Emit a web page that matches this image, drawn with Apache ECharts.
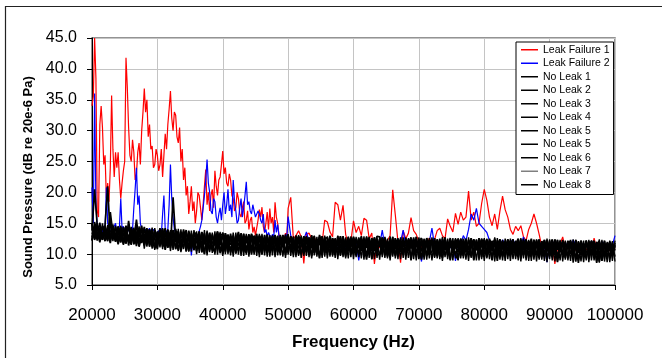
<!DOCTYPE html>
<html><head><meta charset="utf-8">
<script src="https://cdn.jsdelivr.net/npm/echarts@6/dist/echarts.min.js"></script>
<style>html,body{margin:0;padding:0;background:#fff}#c{width:662px;height:358px}</style>
</head><body><div id="c"></div>
<script>
// Frequency sampling (Hz): leak spectra are read finer below 50 kHz
const freqStart = 20000, freqStep = 400;          // No Leak spectra
const fineStart = 20000, fineStep = 200;          // Leak spectra, 20000-49800 Hz
const coarseStart = 50000, coarseStep = 400;      // Leak spectra, 50000-100000 Hz
const xTickValues = [20000, 30000, 40000, 50000, 60000, 70000, 80000, 90000, 100000];
const yTickValues = [5, 10, 15, 20, 25, 30, 35, 40, 45];

const seriesNames = ['Leak Failure 1','Leak Failure 2','No Leak 1','No Leak 2','No Leak 3','No Leak 4','No Leak 5','No Leak 5\u200b','No Leak 6','No Leak 7','No Leak 8'];

const leakFailure1Fine = [
34.0,35.5,45.0,38.5,17.0,16.0,31.0,34.0,30.5,24.5,
26.0,19.0,21.5,18.5,24.0,35.7,27.0,22.5,26.5,24.0,
26.5,22.0,19.0,21.5,23.5,25.0,41.8,37.0,30.5,26.0,
25.0,28.5,26.5,22.0,23.0,26.5,28.0,24.5,30.0,33.0,
36.8,33.0,35.0,29.0,31.0,27.0,27.5,24.0,24.5,27.0,
26.0,23.5,24.5,27.0,22.5,26.0,29.5,27.0,31.0,33.5,
36.4,32.0,30.0,33.0,32.5,29.0,28.0,30.5,25.0,27.0,
22.0,24.0,19.5,21.0,16.5,18.5,21.0,17.0,18.5,15.0,
17.0,20.0,19.5,17.5,15.5,18.0,21.0,23.7,18.0,20.0,
17.0,19.5,20.5,17.5,23.5,21.0,19.5,22.0,22.5,24.5,
26.7,23.0,24.0,21.5,21.0,23.0,22.0,19.5,19.0,17.0,
17.5,20.0,19.0,16.5,16.0,17.5,18.5,15.0,15.5,17.0,
14.0,15.5,16.0,13.5,14.4,13.0,13.0,15.5,17.2,16.0,
17.6,14.5,13.5,15.0,16.8,14.0,17.4,15.0,16.0,13.5,
18.4,16.0,15.0,13.0,12.5,12.0,13.0,12.5,13.4,12.8];

const leakFailure1Coarse = [
17.4,19.2,12.5,13.0,13.8,
12.8,8.5,13.2,13.4,12.5,12.8,11.5,12.0,11.8,15.5,
15.2,13.6,12.8,18.4,18.0,15.5,17.9,13.2,11.5,12.0,
15.4,13.5,14.5,13.0,15.8,15.5,12.5,13.4,8.4,12.0,
11.0,12.5,11.8,12.2,13.0,20.4,16.3,12.0,8.6,13.8,
12.5,13.4,15.9,13.8,13.2,12.0,11.0,12.2,11.5,12.6,
11.8,12.4,13.8,14.2,13.0,12.5,15.7,14.5,13.6,16.6,
14.8,16.8,15.5,16.0,20.2,15.5,16.8,14.5,15.0,18.2,
20.5,18.7,16.0,14.6,16.5,14.0,17.0,19.4,17.2,16.0,
14.0,13.2,14.5,13.8,14.6,12.8,12.2,14.0,15.0,16.5,
15.0,13.2,11.2,10.5,11.8,10.2,11.4,8.4,10.9,11.6,
12.8,10.8,11.3,10.1,11.9,10.6,11.2,9.9,11.5,10.7,
11.1,10.3,12.6,10.9,11.4,10.2,11.0,11.7,10.5,11.2,
10.8];

const leakFailure2Fine = [
20.8,15.0,36.0,18.0,14.5,13.5,15.0,14.0,13.5,14.5,
14.0,20.8,15.0,14.0,14.0,13.5,13.5,14.5,15.0,13.5,
13.8,14.5,19.0,14.0,14.5,13.8,13.5,14.2,14.0,13.5,
13.0,14.0,17.5,20.5,24.0,18.0,19.5,15.0,14.0,13.5,
13.8,14.0,13.5,13.8,14.2,13.5,13.5,14.0,14.0,13.2,
13.2,13.8,13.5,13.0,16.5,19.5,14.0,13.5,14.0,18.0,
24.5,19.0,16.0,14.0,13.5,13.2,13.0,12.8,12.8,13.0,
12.5,12.0,11.8,12.5,13.0,12.2,9.8,12.0,12.6,12.0,
12.2,13.0,13.0,14.5,15.5,17.5,19.5,22.0,25.3,21.5,
20.0,17.0,16.5,19.0,18.5,16.0,15.0,16.5,17.5,15.5,
18.0,20.0,16.5,18.0,20.5,17.0,18.0,16.0,22.0,18.5,
17.0,15.0,15.5,17.5,19.0,16.0,17.5,19.5,21.7,18.0,
18.5,17.0,16.5,18.0,17.7,16.0,16.0,17.0,16.5,15.5,
15.0,16.5,13.5,14.0,12.8,13.5,13.0,12.5,13.2,12.8,
15.5,13.5,14.8,13.0,13.0,12.5,12.8,12.4,13.2,12.6];

const leakFailure2Coarse = [
16.1,13.0,12.0,11.5,12.2,
11.8,12.4,13.6,12.0,11.5,12.2,11.0,11.8,12.1,11.4,
11.9,11.2,12.0,11.6,11.3,12.2,11.5,11.0,11.8,12.3,
11.4,12.0,9.0,11.7,11.2,12.4,11.3,11.9,11.0,12.1,
11.5,13.9,11.2,11.8,11.0,12.2,11.6,11.3,12.0,13.9,
11.4,11.8,11.1,12.5,11.5,11.0,8.8,11.7,11.2,12.0,
14.2,11.3,11.9,11.1,12.2,11.5,11.8,11.0,12.1,8.9,
12.4,11.6,13.0,12.2,14.0,16.5,15.5,17.4,15.0,14.5,
14.0,13.5,12.2,11.4,12.0,11.7,11.2,12.3,11.6,11.0,
11.8,12.4,11.3,11.9,11.5,12.8,11.2,11.7,11.0,12.0,
11.6,11.2,11.9,11.4,8.7,11.8,11.1,12.2,11.5,11.3,
12.0,11.4,11.8,11.0,12.3,11.5,11.2,11.9,11.3,11.7,
11.0,12.1,11.4,11.8,11.2,12.0,11.6,11.1,11.8,11.4,
13.0];

const noLeak1 = [
13.8,20.5,14.6,12.9,13.5,12.1,14.2,13.1,12.6,14.4,
12.3,14.1,11.8,13.6,12.5,14.3,11.6,13.2,12.8,14.0,
11.4,13.5,12.2,14.1,11.0,12.9,13.7,11.6,13.3,12.0,
13.6,11.2,12.8,10.6,13.4,12.2,11.5,13.8,11.9,12.6,
10.5,12.9,11.3,13.4,10.2,12.4,11.7,13.1,10.8,12.2,
12.8,10.4,13.2,11.5,12.1,10.1,12.9,11.2,13.3,10.9,
11.9,13.1,10.3,12.5,11.0,13.0,10.6,12.2,11.5,12.9,
10.2,12.6,11.4,13.0,9.9,12.1,11.0,12.8,10.5,11.9,
12.7,10.1,12.0,11.2,13.0,10.4,12.3,9.3,12.6,11.1,
10.6,12.8,9.9,12.1,11.3,12.9,10.2,11.8,10.9,12.5,
11.6,9.8,12.7,10.5,12.2,11.0,12.8,9.2,11.9,10.6,
12.4,10.3,11.7,9.6,12.6,11.1,10.0,12.3,10.8,12.0,
9.8,12.1,10.9,12.7,10.2,11.5,9.1,12.4,11.2,10.4,
12.2,10.0,11.8,9.6,12.5,10.7,11.4,9.0,12.0,11.1,
10.3,12.4,9.7,11.6,10.9,12.3,9.0,11.9,10.5,12.1,
11.4,9.5,12.2,10.6,11.8,8.9,12.0,10.9,9.8,12.3,
9.9,11.7,10.4,12.2,9.3,11.5,10.8,12.0,9.6,11.2,
11.8,9.4,11.3,10.1,12.1,9.7,11.0,12.2,8.7,11.5,
10.2,12.0,9.5,11.4,10.6,11.9,8.6,11.6,10.3,12.1,
9.6,11.3,10.7,12.0,8.8,11.7,10.0,11.5,9.4,11.9,
10.6];

const noLeak2 = [
12.7,14.3,12.2,13.9,12.6,14.7,21.0,12.4,14.1,12.0,
13.7,11.9,14.4,12.6,13.1,11.5,13.9,12.3,14.2,11.8,
13.2,11.8,14.0,12.4,10.9,13.6,11.5,12.8,14.2,11.1,
12.1,13.9,10.8,12.7,11.4,13.5,10.4,12.9,11.6,13.3,
12.6,11.0,13.5,11.8,12.8,10.6,13.2,11.4,12.3,10.3,
11.1,13.4,12.0,10.5,12.7,11.6,13.1,10.2,12.4,11.8,
13.2,10.8,12.1,11.3,13.0,9.9,12.6,11.4,10.2,12.8,
12.0,10.7,13.1,11.2,12.4,10.3,12.9,11.6,12.2,10.0,
11.3,12.9,10.6,12.4,9.7,12.1,11.4,12.8,10.2,12.5,
12.7,11.0,12.3,10.4,12.9,9.8,12.0,11.5,12.6,10.1,
10.3,12.5,11.2,12.9,9.9,12.0,10.8,12.6,10.5,12.3,
11.2,12.7,9.9,12.1,10.6,12.8,9.7,11.4,12.5,10.2,
12.6,10.7,12.2,10.0,12.8,9.2,11.9,10.6,12.4,9.9,
10.4,12.6,10.2,12.1,11.0,12.7,9.8,11.6,10.4,12.3,
11.9,9.8,12.5,10.5,11.3,9.6,12.2,10.8,12.6,9.5,
12.4,10.1,11.6,9.0,12.5,10.7,11.1,9.6,12.1,10.4,
11.5,12.4,9.7,11.1,10.2,12.3,9.5,11.8,10.6,12.1,
9.9,11.7,10.5,12.3,9.3,11.2,10.8,12.0,9.6,11.4,
11.7,9.4,12.2,10.0,11.5,8.8,12.0,10.5,11.3,9.3,
12.1,9.8,11.6,8.6,11.9,10.4,12.2,9.5,11.1,10.2,
11.5];

const noLeak3 = [
14.9,12.3,13.6,11.9,14.5,13.2,12.1,15.8,12.7,13.4,
11.6,13.3,12.1,14.6,11.4,13.8,12.4,15.6,11.9,13.1,
12.7,14.2,11.2,13.0,12.5,10.8,14.0,12.3,11.4,13.8,
11.0,19.2,12.4,13.7,10.5,12.2,13.9,11.1,12.7,10.7,
13.3,11.6,12.1,10.0,13.6,11.9,10.9,12.7,11.3,13.4,
10.0,12.3,11.2,13.3,10.7,12.9,11.4,12.2,10.4,13.0,
10.5,12.4,11.8,13.3,10.1,12.0,11.2,12.9,10.7,11.6,
13.1,11.5,10.1,12.5,11.8,13.2,10.6,12.0,11.1,12.7,
10.0,11.8,12.9,10.7,12.2,11.5,10.0,13.1,11.7,10.6,
11.9,10.2,12.6,11.4,10.0,12.2,11.6,9.6,12.8,11.2,
12.8,11.3,10.1,12.4,11.6,9.1,12.1,11.0,12.7,9.8,
10.1,11.9,12.6,10.8,9.5,12.2,11.5,10.3,12.0,11.3,
11.4,12.4,9.0,11.7,11.1,12.5,10.4,12.0,9.7,12.3,
11.7,9.6,12.4,10.8,9.4,12.0,11.2,12.6,10.1,11.5,
12.4,10.7,11.1,12.5,9.9,11.4,10.5,12.3,9.7,11.8,
10.0,12.3,10.8,12.1,9.9,11.5,12.4,9.8,11.3,10.9,
12.2,10.3,12.0,9.8,11.6,10.9,12.4,9.7,11.9,10.2,
11.2,12.4,9.8,11.6,10.4,12.2,9.5,11.8,10.7,12.1,
9.8,11.6,10.9,12.3,9.6,11.1,10.4,12.1,9.5,11.5,
11.4,10.3,12.2,9.9,11.6,8.9,11.3,10.8,12.0,9.7,
11.8];

const noLeak4 = [
12.3,15.2,13.0,14.2,12.5,13.7,12.9,16.8,13.3,12.2,
14.5,12.8,13.4,11.7,15.4,12.2,13.6,11.3,13.8,12.5,
14.4,12.0,13.3,11.3,13.9,12.6,11.7,13.4,10.7,12.9,
13.0,11.7,14.1,12.0,11.2,13.6,12.4,10.5,13.3,11.8,
11.9,13.7,10.3,12.5,11.1,13.0,10.6,12.0,13.5,11.5,
13.5,11.3,12.6,10.3,13.0,11.1,10.6,13.4,11.6,12.2,
12.4,10.1,13.0,11.7,12.3,10.9,13.1,10.4,12.7,11.1,
11.3,12.9,10.4,11.8,13.0,10.8,11.6,10.1,13.0,11.7,
12.4,11.0,12.6,9.9,11.6,12.9,10.7,12.1,9.9,12.8,
10.3,13.0,11.2,12.5,10.6,11.3,12.9,10.5,11.4,12.6,
12.0,10.6,12.5,11.4,10.3,12.8,10.2,12.4,11.3,12.9,
12.8,10.0,12.2,11.1,12.4,10.4,12.6,9.9,11.6,12.2,
10.5,11.8,12.7,9.8,12.2,10.8,12.1,9.9,12.6,11.0,
12.5,11.1,9.7,12.3,10.6,11.5,10.0,12.4,11.2,9.9,
9.1,11.9,10.4,12.0,10.8,12.6,10.0,11.5,11.0,10.4,
11.7,9.9,12.5,11.2,10.3,12.2,9.6,11.7,10.6,12.4,
10.6,12.2,11.0,10.5,12.4,9.9,11.4,10.7,12.5,9.8,
12.3,10.2,11.9,9.6,11.5,10.9,12.4,9.9,11.6,10.3,
12.2,10.7,9.7,11.8,10.1,12.3,10.8,9.9,11.7,10.4,
10.0,12.2,10.5,11.4,9.9,12.0,9.6,11.8,10.6,11.3,
9.6];

const noLeak5 = [
14.9,12.5,14.6,12.3,15.0,12.6,14.7,12.2,14.8,12.4,
14.5,11.9,14.2,11.7,14.6,12.0,14.3,11.6,14.5,11.9,
14.1,11.2,13.8,10.9,14.2,11.1,13.9,10.8,14.0,11.0,
13.9,10.7,13.6,10.5,14.0,10.8,13.7,10.4,13.8,10.6,
13.7,10.2,13.4,10.0,13.8,10.3,13.5,9.9,13.6,10.1,
13.4,10.0,13.1,9.8,13.5,10.1,13.2,9.7,13.3,9.9,
13.2,9.9,12.9,9.7,13.3,10.0,13.0,9.6,13.1,9.8,
13.1,9.8,12.8,9.6,13.2,9.9,12.9,9.5,13.0,9.7,
13.0,9.7,12.7,9.5,13.1,9.8,12.8,9.4,12.9,9.6,
12.9,9.6,12.6,9.4,13.0,9.7,12.7,9.3,12.8,9.5,
12.8,9.5,12.5,9.3,12.9,9.6,12.6,9.2,12.7,9.4,
12.8,9.5,12.5,9.3,12.9,9.6,12.6,9.2,12.7,9.4,
12.7,9.4,12.4,9.2,12.8,9.5,12.5,9.1,12.6,9.3,
12.7,9.4,12.4,9.2,12.8,9.5,12.5,9.1,12.6,9.3,
12.6,9.3,12.3,9.1,12.7,9.4,12.4,9.0,12.5,9.2,
12.6,9.3,12.3,9.1,12.7,9.4,12.4,9.0,12.5,9.2,
12.5,9.2,12.2,9.0,12.6,9.3,12.3,8.9,12.4,9.1,
12.4,9.1,12.1,8.9,12.5,9.2,12.2,8.8,12.3,9.0,
12.3,9.1,12.0,8.9,12.4,9.2,12.1,8.8,12.2,9.0,
12.3,9.0,12.0,8.8,12.4,9.1,12.1,8.7,12.2,8.9,
12.2];

const noLeak5b = [
12.2,14.5,12.6,15.1,12.3,14.4,12.7,14.9,12.1,14.6,
11.8,14.6,11.5,14.1,12.0,14.4,11.6,14.7,11.9,14.2,
10.9,13.9,11.3,14.3,10.7,13.7,11.1,14.2,10.8,13.9,
10.5,13.7,10.8,14.1,10.3,13.8,10.6,13.5,10.4,13.9,
10.0,13.5,10.3,13.9,9.8,13.4,10.2,13.7,9.9,13.6,
9.7,13.4,10.0,13.0,9.6,13.5,9.9,13.2,9.7,13.3,
9.6,13.2,9.9,12.9,9.5,13.3,9.8,13.0,9.6,13.1,
9.5,13.0,9.8,12.8,9.4,13.2,9.7,12.9,9.5,13.1,
9.4,12.9,9.7,12.7,9.3,13.0,9.6,12.8,9.4,13.0,
9.3,12.8,9.6,12.6,9.2,12.9,9.5,12.7,9.3,12.9,
9.2,12.8,9.5,12.5,9.1,12.9,9.4,12.6,9.2,12.7,
9.1,12.7,9.4,12.5,9.0,12.8,9.3,12.6,9.2,12.7,
9.1,12.6,9.4,12.4,9.0,12.7,9.2,12.5,9.1,12.6,
9.0,12.6,9.3,12.3,8.9,12.7,9.2,12.4,9.0,12.6,
9.0,12.5,9.3,12.3,8.9,12.6,9.1,12.4,9.0,12.5,
8.9,12.5,9.2,12.2,8.8,12.6,9.1,12.3,8.9,12.4,
8.9,12.4,9.2,12.2,8.8,12.5,9.0,12.3,8.9,12.4,
8.8,12.3,9.1,12.1,8.7,12.4,9.0,12.2,8.8,12.3,
8.8,12.2,9.0,12.0,8.6,12.3,8.9,12.1,8.7,12.2,
8.7,12.2,9.0,11.9,8.6,12.3,8.8,12.0,8.7,12.1,
8.8];

const noLeak6 = [
13.5,12.8,15.0,13.3,12.3,14.1,13.4,11.8,14.3,13.1,
14.0,12.4,13.0,14.5,12.2,12.8,14.1,11.8,12.9,14.6,
11.8,14.0,12.5,11.7,13.4,12.3,14.2,11.2,12.0,14.0,
12.4,11.1,13.2,12.8,10.8,14.0,11.8,12.6,10.9,13.6,
13.1,11.2,13.6,11.6,12.4,10.9,12.8,11.9,13.7,10.6,
11.6,13.0,11.0,12.8,11.4,12.3,13.6,11.4,10.6,12.9,
10.9,13.3,11.6,12.2,10.4,12.6,11.7,13.2,11.0,12.4,
11.9,10.4,12.6,11.5,10.6,12.5,12.2,10.8,11.7,12.9,
12.1,10.4,12.8,11.5,12.0,10.2,11.8,12.6,10.7,11.9,
11.5,12.5,10.5,12.2,11.7,10.3,12.7,11.1,12.2,10.8,
10.8,12.2,11.4,12.7,10.4,12.2,11.6,10.5,12.5,11.0,
12.1,11.0,12.8,10.4,12.0,10.1,11.9,12.4,10.3,11.8,
12.2,10.4,12.0,11.3,10.1,12.0,12.6,10.5,11.4,12.2,
12.0,11.2,10.5,12.5,10.1,12.4,10.7,12.1,11.2,10.1,
10.8,12.5,11.0,10.3,12.3,11.5,12.4,10.6,11.3,12.5,
11.1,12.4,10.2,11.9,12.2,10.0,12.3,11.3,10.8,12.1,
11.8,10.2,11.6,12.5,10.6,12.2,9.9,12.1,11.3,10.5,
12.0,11.1,10.4,12.3,10.6,11.6,10.1,12.4,10.7,11.8,
11.4,9.8,11.9,12.0,10.5,11.7,10.2,12.2,10.8,11.9,
10.6,11.8,9.7,11.6,12.1,10.3,11.6,10.5,11.8,10.0,
11.3];

const noLeak7 = [
13.2,13.9,12.5,13.6,14.2,12.7,13.1,14.0,12.9,13.8,
12.5,13.4,12.2,13.8,12.9,13.5,12.0,14.0,12.6,13.3,
12.9,12.2,13.5,11.9,12.6,13.2,11.8,13.5,12.5,11.9,
12.6,11.5,12.9,12.2,11.4,13.0,11.9,12.4,11.6,12.8,
11.5,12.5,11.8,12.3,11.2,12.6,11.5,12.2,11.7,12.7,
11.3,12.0,11.6,12.4,11.0,12.1,11.5,12.6,11.2,12.0,
11.6,12.2,11.1,12.3,11.6,11.0,12.4,11.3,12.0,11.2,
11.8,11.1,12.3,10.9,12.1,11.6,11.0,12.2,11.3,12.0,
11.0,11.7,12.2,10.9,11.9,11.3,12.1,10.8,11.8,11.4,
11.7,10.9,11.8,11.0,12.0,11.2,10.9,11.9,11.1,12.0,
11.2,11.9,10.9,11.6,11.0,12.1,11.1,11.7,10.8,11.5,
11.0,11.7,11.3,11.8,10.8,11.6,11.1,11.9,10.9,11.4,
11.3,10.8,11.8,11.0,11.6,10.9,11.9,11.2,10.8,11.6,
10.9,11.6,11.0,11.8,11.3,10.7,11.7,11.1,11.9,10.8,
11.5,10.9,11.6,10.7,11.9,11.0,11.4,10.8,11.7,11.2,
10.8,11.4,11.0,11.7,10.6,11.3,10.9,11.8,10.7,11.3,
11.2,10.7,11.6,10.9,11.5,10.8,11.7,10.6,11.3,11.0,
10.7,11.4,10.8,11.6,10.9,11.3,10.6,11.5,10.8,11.2,
11.0,10.6,11.5,10.8,11.3,10.5,11.6,10.9,11.1,10.7,
10.8,11.3,10.5,11.4,10.7,11.2,10.6,11.5,10.9,11.1,
10.7];

const noLeak8 = [
12.2,13.6,14.3,12.3,13.0,14.6,12.4,13.7,13.9,12.1,
13.4,14.4,11.6,13.2,12.0,14.2,12.6,13.7,11.2,12.8,
12.1,13.0,14.0,11.3,13.6,12.0,12.9,14.1,11.8,13.1,
11.5,13.3,12.0,13.6,11.7,12.6,10.7,13.2,12.4,11.4,
12.1,10.9,13.0,12.2,10.8,13.5,11.0,10.3,12.5,13.2,
13.1,11.7,10.8,12.8,11.9,10.6,12.7,13.0,11.3,10.2,
12.0,11.0,12.9,10.4,13.0,12.3,10.8,11.9,12.5,10.6,
12.6,11.7,10.6,13.1,10.3,11.9,12.7,11.2,12.3,10.9,
12.3,11.5,10.4,12.7,11.1,10.8,12.4,11.6,12.9,10.5,
10.8,12.2,11.8,10.3,12.4,11.1,10.7,12.4,10.4,12.2,
10.6,12.3,11.0,12.0,10.8,12.6,10.4,11.8,12.3,10.2,
11.8,10.5,12.0,11.6,10.2,11.9,10.8,12.5,10.4,12.3,
10.7,11.3,12.4,10.3,11.9,10.6,12.4,10.9,12.1,10.3,
12.3,10.4,12.0,10.6,11.7,12.2,10.2,11.8,10.5,12.4,
11.0,12.1,10.2,11.8,10.6,12.4,10.3,12.0,10.9,11.6,
12.3,10.3,11.8,10.6,12.0,11.2,10.2,12.1,11.0,10.0,
10.3,12.1,10.7,11.4,12.0,10.6,12.3,11.1,10.1,12.2,
11.5,10.0,12.1,10.9,12.2,10.1,11.4,10.5,12.3,10.4,
12.0,10.3,11.3,12.1,9.9,11.8,10.6,11.5,10.1,12.2,
10.2,12.1,10.0,11.2,11.7,9.0,11.8,10.3,12.0,10.7,
11.2];

const FONT = '"Liberation Sans", Arial, sans-serif';

function pairs(start, step, vals) {
  return vals.map((v, i) => [start + i * step, v]);
}
function leakPairs(fine, coarse) {
  return pairs(fineStart, fineStep, fine).concat(pairs(coarseStart, coarseStep, coarse));
}

const seriesData = [
  leakPairs(leakFailure1Fine, leakFailure1Coarse),
  leakPairs(leakFailure2Fine, leakFailure2Coarse),
  pairs(freqStart, freqStep, noLeak1),
  pairs(freqStart, freqStep, noLeak2),
  pairs(freqStart, freqStep, noLeak3),
  pairs(freqStart, freqStep, noLeak4),
  pairs(freqStart, freqStep, noLeak5),
  pairs(freqStart, freqStep, noLeak5b),
  pairs(freqStart, freqStep, noLeak6),
  pairs(freqStart, freqStep, noLeak7),
  pairs(freqStart, freqStep, noLeak8)
];
const seriesColors = ['#ff0000','#0000ff','#000000','#000000','#000000','#000000','#000000','#000000','#000000','#7f7f7f','#000000'];
const seriesWidths = [1.2, 1.2, 1.7, 1.7, 1.7, 1.7, 1.4, 1.4, 1.7, 1.5, 1.7];
const seriesZ = [2, 2, 2, 2, 2, 2, 2, 2, 2, 1, 2];

const chart = echarts.init(document.getElementById('c'), null, {renderer: 'canvas'});
chart.setOption({
  animation: false,
  backgroundColor: '#ffffff',
  grid: {left: 92, right: 47, top: 38, bottom: 73, show: true, borderColor: '#707070', borderWidth: 1.5, backgroundColor: 'transparent'},
  xAxis: {
    type: 'value', min: xTickValues[0], max: xTickValues[xTickValues.length - 1], interval: 10000,
    axisLine: {show: true, onZero: false, lineStyle: {color: '#000', width: 1}},
    axisTick: {show: true, length: 5, inside: false, lineStyle: {color: '#000'}},
    splitLine: {show: true, lineStyle: {color: '#c4c4c4', width: 1}},
    axisLabel: {color: '#000', fontSize: 17, fontFamily: FONT, margin: 22, formatter: v => String(v)},
    name: 'Frequency (Hz)', nameLocation: 'middle', nameGap: 49,
    nameTextStyle: {color: '#000', fontSize: 17, fontWeight: 'bold', fontFamily: FONT}
  },
  yAxis: {
    type: 'value', min: yTickValues[0], max: yTickValues[yTickValues.length - 1], interval: 5,
    axisLine: {show: true, onZero: false, lineStyle: {color: '#000', width: 1}},
    axisTick: {show: true, length: 5, inside: false, lineStyle: {color: '#000'}},
    splitLine: {show: true, lineStyle: {color: '#c4c4c4', width: 1}},
    axisLabel: {color: '#000', fontSize: 16, fontFamily: FONT, margin: 15, formatter: v => v.toFixed(1)}
  },
  legend: {
    orient: 'vertical', left: 516, top: 42,
    backgroundColor: '#ffffff', borderColor: '#000', borderWidth: 1, borderRadius: 0,
    padding: [1, 4, 3, 5], itemGap: 0, itemWidth: 17, itemHeight: 1.5, icon: 'rect',
    selectedMode: false,
    textStyle: {color: '#000', fontSize: 10.5, lineHeight: 13.5, fontFamily: FONT},
    formatter: name => name.replace('\u200b', ''),
    data: seriesNames
  },
  graphic: [
    {type: 'rect', silent: true, z: 0, shape: {x: 5.5, y: 6.5, width: 720, height: 420},
     style: {fill: 'none', stroke: '#222', lineWidth: 1.2}},
    {type: 'text', silent: true, x: 28, y: 177, rotation: Math.PI / 2,
     style: {text: 'Sound Pressure (dB re 20e-6 Pa)', fill: '#000', fontSize: 13, fontWeight: 'bold',
             fontFamily: FONT, align: 'center', verticalAlign: 'middle'}}
  ],
  series: seriesNames.map((name, k) => ({
    name: name, type: 'line', data: seriesData[k], z: seriesZ[k],
    showSymbol: false, symbol: 'none', silent: true,
    color: seriesColors[k],
    lineStyle: {color: seriesColors[k], width: seriesWidths[k]},
    emphasis: {disabled: true}
  }))
});
</script>
</body></html>
